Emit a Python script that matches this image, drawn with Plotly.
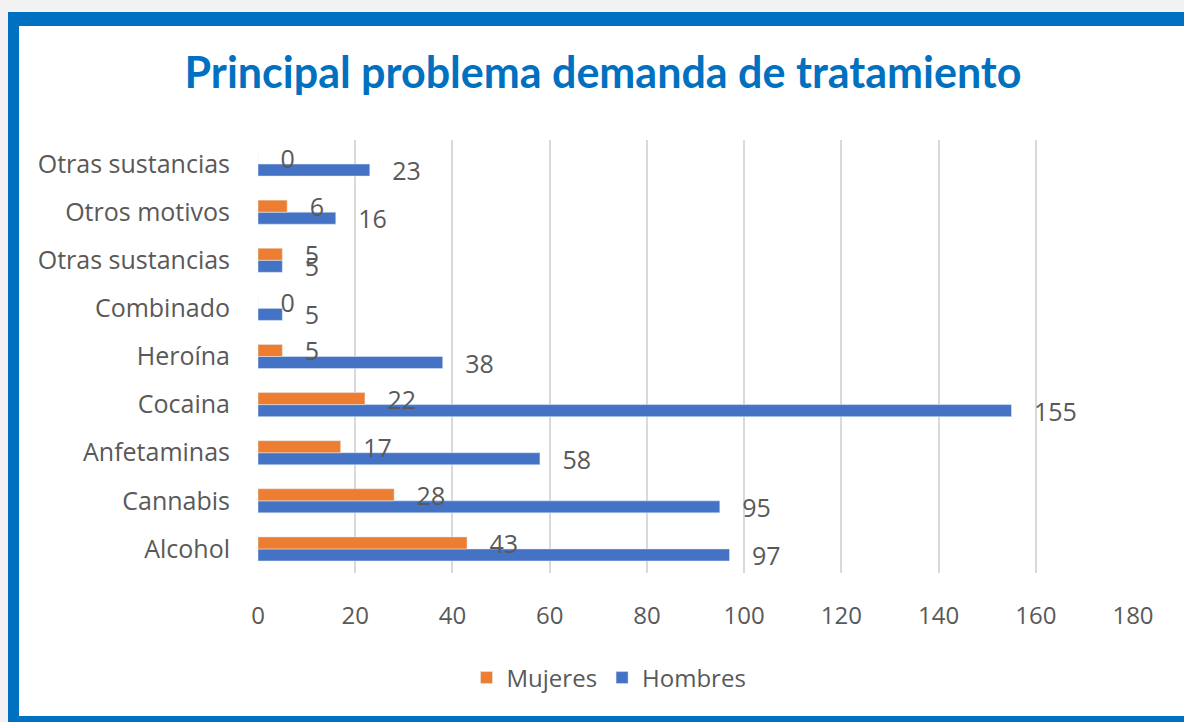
import plotly.graph_objects as go

categories = ["Alcohol", "Cannabis", "Anfetaminas", "Cocaina", "Heroína",
              "Combinado", "Otras sustancias", "Otros motivos", "Otras sustancias"]
mujeres = [43, 28, 17, 22, 5, 0, 5, 6, 0]
hombres = [97, 95, 58, 155, 38, 5, 5, 16, 23]
x_ticks = [0, 20, 40, 60, 80, 100, 120, 140, 160, 180]

positions = list(range(len(categories)))

W, H = 1184, 722
L, R, T, B = 258, 51, 140, 149
pw, ph = W - L - R, H - T - B

def px(x):
    return (x - L) / pw

def py(y):
    return (H - B - y) / ph

FONT = "Open Sans"
GREY = "#595959"
PAD = "\u00a0" * 3

fig = go.Figure()
fig.add_trace(go.Bar(
    name="Hombres", y=positions, x=hombres, orientation="h",
    marker=dict(color="#4472C4"),
    text=[f"{PAD}{v}" for v in hombres], textposition="outside",
    textfont=dict(size=25, color=GREY, family=FONT),
    constraintext="none", cliponaxis=False,
))
fig.add_trace(go.Bar(
    name="Mujeres", y=positions, x=mujeres, orientation="h",
    marker=dict(color="#ED7D31"),
    text=[f"{PAD}{v}" for v in mujeres], textposition="outside",
    textfont=dict(size=25, color=GREY, family=FONT),
    constraintext="none", cliponaxis=False,
))

shapes = [
    dict(type="rect", xref="paper", yref="paper", layer="below",
         x0=px(8), x1=px(1300), y0=py(800), y1=py(12),
         fillcolor="#0070C0", line=dict(width=0)),
    dict(type="rect", xref="paper", yref="paper", layer="below",
         x0=px(19), x1=px(1300), y0=py(716), y1=py(26),
         fillcolor="white", line=dict(width=0)),
]

fig.update_layout(
    width=W, height=H,
    margin=dict(l=L, r=R, t=T, b=B, pad=0),
    paper_bgcolor="#F2F2F2",
    plot_bgcolor="rgba(0,0,0,0)",
    barmode="group", bargap=0.5, bargroupgap=0,
    shapes=shapes,
    title=dict(text="<b>Principal problema demanda de tratamiento</b>",
               x=603 / W, xanchor="center", y=1 - 73 / H, yanchor="middle",
               font=dict(family="Lato", size=43, color="#0070C0")),
    xaxis=dict(range=[0, 180], tickvals=x_ticks, showgrid=True,
               gridcolor="#D9D9D9", gridwidth=2, zeroline=False,
               ticks="outside", ticklen=21, tickcolor="rgba(0,0,0,0)",
               tickfont=dict(family=FONT, size=24, color=GREY),
               showline=False, fixedrange=True),
    yaxis=dict(range=[-0.5, len(categories) - 0.5], tickvals=positions,
               ticktext=categories, showgrid=False, zeroline=False,
               ticks="outside", ticklen=22, tickcolor="rgba(0,0,0,0)",
               tickfont=dict(family=FONT, size=25, color=GREY),
               showline=False, fixedrange=True),
    legend=dict(orientation="h", traceorder="reversed",
                x=px(609), xanchor="center", y=py(678), yanchor="middle",
                font=dict(family=FONT, size=24, color=GREY),
                bgcolor="rgba(0,0,0,0)"),
    showlegend=True,
)

fig.write_html("out.html", config={"displayModeBar": False},
               post_script="document.body.style.margin='0';document.body.style.overflow='hidden';")
